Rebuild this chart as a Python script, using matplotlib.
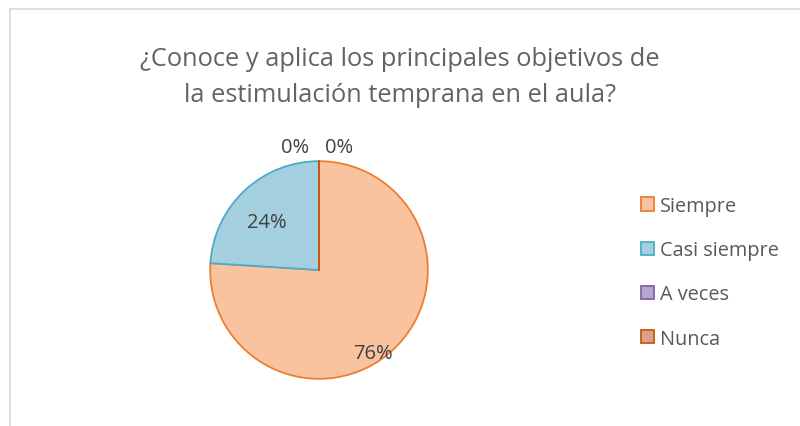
import matplotlib.pyplot as plt
from matplotlib.patches import Rectangle

categories = ["Siempre", "Casi siempre", "A veces", "Nunca"]
shares = [76, 24, 0, 0]
pct_labels = ["76%", "24%", "0%", "0%"]

title = "¿Conoce y aplica los principales objetivos de\nla estimulación temprana en el aula?"

face_colors = ["#F9C3A0", "#A3CFDF", "#B5A6D0", "#DDA08F"]
edge_colors = ["#ED7D31", "#4BACC6", "#8064A2", "#C55A11"]
# label anchor points in pie units (Excel-style placement)
label_pos = [(0.50, -0.76), (-0.48, 0.44), (0.18, 1.13), (-0.22, 1.13)]

plt.rcParams["font.family"] = ["Open Sans", "DejaVu Sans"]

fig = plt.figure(figsize=(8, 4.27), dpi=100)
fig.patches.append(Rectangle((10 / 800, -0.1), 1.0, 1 - 10 / 427 + 0.1,
                             transform=fig.transFigure, fill=False,
                             edgecolor="#D9D9D9", linewidth=1.2))

fig.text(0.5, 1 - 77.5 / 427, title, ha="center", va="center",
         fontsize=18.3, color="#636363", linespacing=1.6)

cx, cy, r = 319, 271, 111
ax = fig.add_axes([(cx - r) / 800, (427 - cy - r) / 427, 2 * r / 800, 2 * r / 427])
wedges, _ = ax.pie(shares, startangle=90, counterclock=False, radius=1,
                   colors=face_colors,
                   wedgeprops=dict(linewidth=1.3))
for w, ec in zip(wedges, edge_colors):
    w.set_edgecolor(ec)
# zero-share slices still show their border line at the top
ax.plot([0, 0], [0, 1], color=edge_colors[3], linewidth=1.3)
for (x, y), txt in zip(label_pos, pct_labels):
    ax.text(x, y, txt, ha="center", va="center", fontsize=14.5, color="#404040")
ax.set_xlim(-1.02, 1.02)
ax.set_ylim(-1.02, 1.02)
ax.set_aspect("equal")
ax.axis("off")

handles = [Rectangle((0, 0), 1, 1, facecolor=fc, edgecolor=ec, linewidth=1.3)
           for fc, ec in zip(face_colors, edge_colors)]
fig.legend(handles, categories, loc="upper left",
           bbox_to_anchor=(623 / 800, 1 - 179 / 427), frameon=False,
           fontsize=14.3, labelcolor="#595959", handlelength=0.65,
           handleheight=0.65, handletextpad=0.3, labelspacing=1.22)

fig.savefig("out.png", dpi=100)
